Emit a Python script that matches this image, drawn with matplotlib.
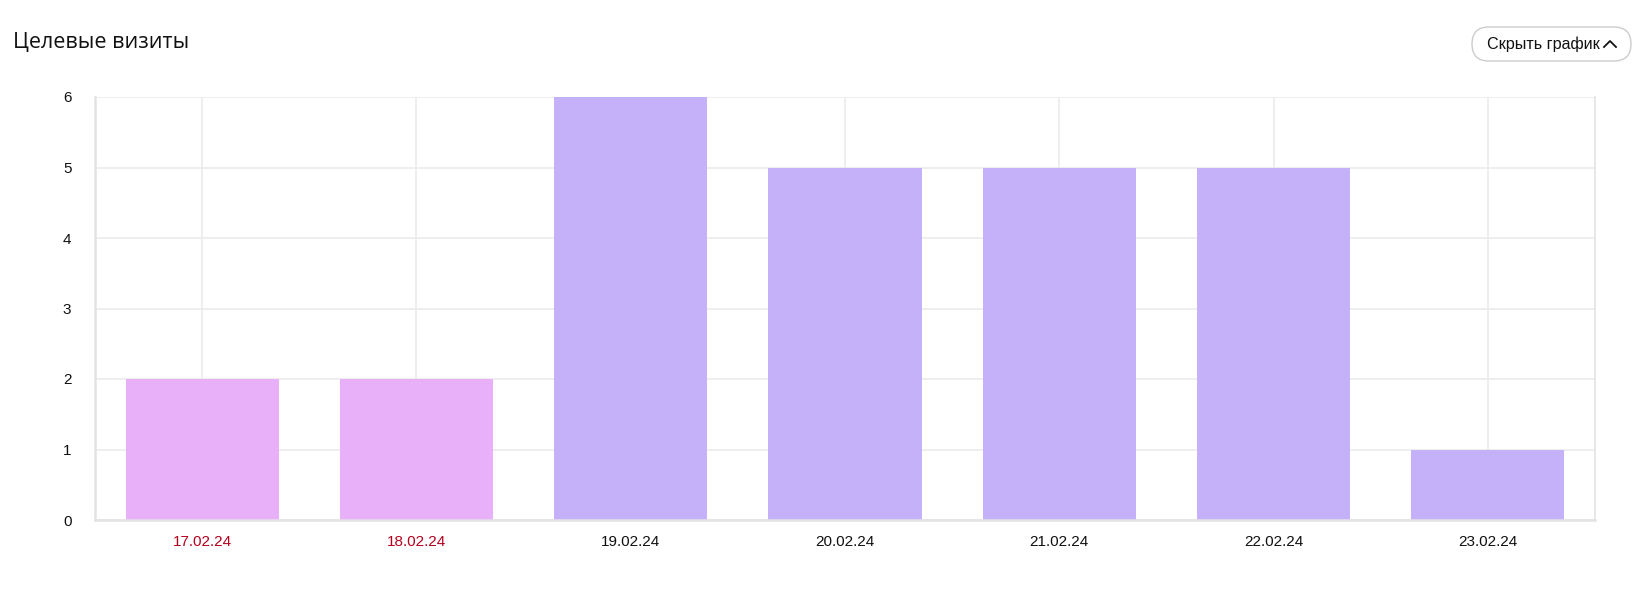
import matplotlib
matplotlib.use("Agg")
import matplotlib.pyplot as plt
from matplotlib.patches import FancyBboxPatch

dates = ["17.02.24", "18.02.24", "19.02.24", "20.02.24", "21.02.24", "22.02.24", "23.02.24"]
visits = [2, 2, 6, 5, 5, 5, 1]
weekend = [True, True, False, False, False, False, False]

W, H = 1646, 593
fig = plt.figure(figsize=(W / 100, H / 100), dpi=100)
plt.rcParams['font.family'] = ['Liberation Sans', 'DejaVu Sans']

left, right, top, bottom = 95, 1595, 97, 520
ax = fig.add_axes([left / W, 1 - bottom / H, (right - left) / W, (bottom - top) / H])

colors = ["#E8B0F8" if w else "#C4B1F9" for w in weekend]
x = list(range(len(dates)))
ax.bar(x, visits, width=0.715, color=colors, zorder=2)
ax.set_xlim(-0.5, len(dates) - 0.5)
ax.set_ylim(0, 6)
ax.set_yticks(range(0, 7))
ax.set_xticks(x)
ax.grid(True, color="#EBEBEB", linewidth=1.2, zorder=0)
ax.set_axisbelow(True)
ax.tick_params(axis="both", length=0, labelsize=11, colors="#111111")
ax.tick_params(axis="x", pad=11)
ax.tick_params(axis="y", pad=17)
ax.set_xticklabels(dates)
for lab, w in zip(ax.get_xticklabels(), weekend):
    lab.set_color("#B3001E" if w else "#111111")
for s in ["left", "bottom", "right"]:
    ax.spines[s].set_color("#E3E3E3")
    ax.spines[s].set_linewidth(1.8)
ax.spines["top"].set_visible(False)
ax.spines["right"].set_linewidth(1.2)

fig.text(13 / W, 1 - 42 / H, "Целевые визиты", fontsize=15.5, va="center", ha="left",
         color="#111111", family=["Open Sans", "DejaVu Sans"])

# overlay axes in pixel coordinates for the button
ov = fig.add_axes([0, 0, 1, 1], zorder=5)
ov.set_xlim(0, W)
ov.set_ylim(H, 0)
ov.axis("off")
ov.patch.set_alpha(0)
bx0, by0, bx1, by1 = 1472, 27, 1631, 61
ov.add_patch(FancyBboxPatch((bx0, by0), bx1 - bx0, by1 - by0,
                            boxstyle="round,pad=0,rounding_size=17",
                            facecolor="white", edgecolor="#CCCCCC", linewidth=1.0))
ov.text(1487, 44.5, "Скрыть график", fontsize=11.6, va="center", ha="left", color="#111111")
cx, cy = 1610, 44
ov.plot([cx - 6, cx, cx + 6], [cy + 3, cy - 3, cy + 3], color="#111111", linewidth=1.3)

fig.savefig("out.png", dpi=100)
